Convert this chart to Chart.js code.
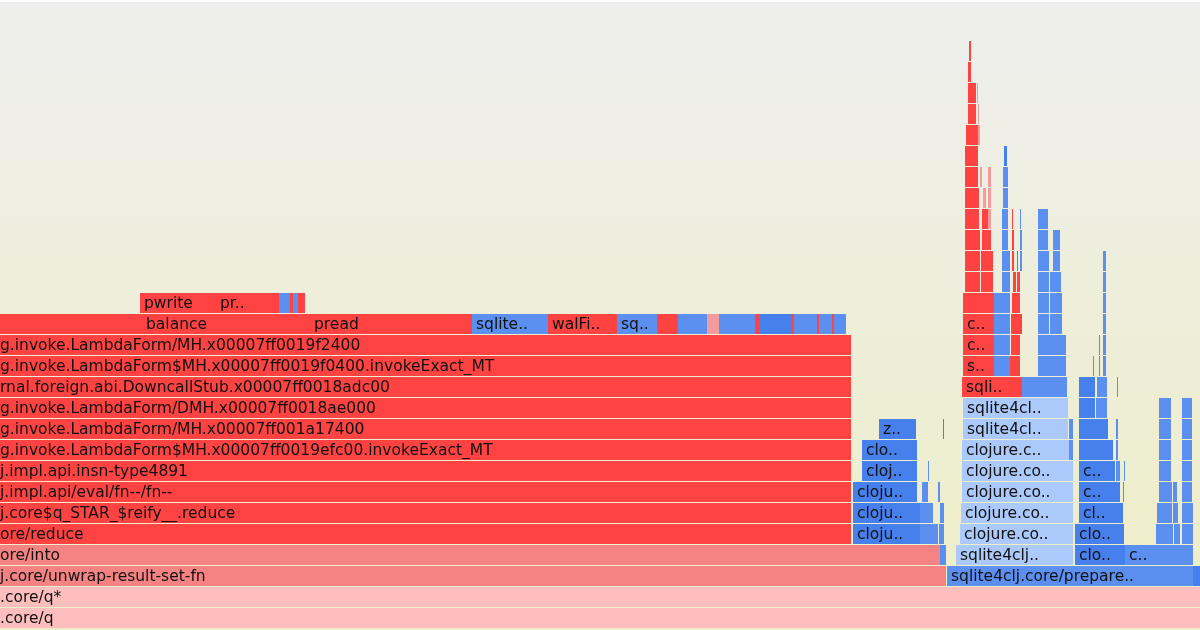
<!DOCTYPE html>
<html>
<head>
<meta charset="utf-8">
<script src="https://cdn.jsdelivr.net/npm/chart.js@4.4.1/dist/chart.umd.min.js"></script>
<style>
  html, body { margin: 0; padding: 0; background: #fff; }
  #wrap {
    position: absolute; left: 0; top: 2px; width: 1200px; height: 628px;
    background: linear-gradient(#eeeeee, #eeeec6);
  }
</style>
</head>
<body>
<div id="wrap"><canvas id="flame"></canvas></div>
<script>
// frame kinds: n = native/jit (red), s = inlined (salmon), p = interpreted (pink),
// b = clojure (blue), d = clojure deep (dark blue), l = clojure lib (light blue), r = small native (light red)
const KIND_COLORS = {
  n: "#ff4343", s: "#f58383", p: "#ffbebe",
  b: "#5b8ff0", d: "#4680ec", l: "#abc9fa", r: "#f29b9b"
};

// one array per stack depth: [startSample, endSample, kind, label]
const level00 = [[-4, 1200, "p", ".core/q"]];
const level01 = [[-4, 1200, "p", ".core/q*"]];
const level02 = [[-4, 946, "s", "j.core/unwrap-result-set-fn"], [947, 1180, "b", "sqlite4clj.core/prepare.."],
  [1180, 1193, "b"], [1193, 1200, "d"]];
const level03 = [[-4, 940, "s", "ore/into"], [940, 946, "b"], [956, 1073, "l", "sqlite4clj.."],
  [1075, 1125, "d", "clo.."], [1125, 1178, "b", "c.."], [1178, 1193, "b"]];
const level04 = [[-4, 851, "n", "ore/reduce"], [853, 920, "d", "cloju.."], [920, 938, "b"], [939, 944, "b"],
  [960, 1073, "l", "clojure.co.."], [1075, 1124, "d", "clo.."], [1156, 1173, "b"], [1174, 1180, "b"], [1182, 1193, "b"]];
const level05 = [[-4, 851, "n", "j.core$q_STAR_$reify__.reduce"], [853, 920, "d", "cloju.."], [920, 933, "b"],
  [940, 944, "b"], [961, 1073, "l", "clojure.co.."], [1079, 1123, "d", "cl.."], [1157, 1172, "b"],
  [1173, 1178, "b"], [1182, 1193, "b"]];
const level06 = [[-4, 851, "n", "j.impl.api/eval/fn--/fn--"], [853, 917, "d", "cloju.."], [922, 928, "b"],
  [938, 940, "b"], [962, 1073, "l", "clojure.co.."], [1079, 1120, "d", "c.."], [1123, 1124, "b"],
  [1159, 1172, "b"], [1173, 1177, "b"], [1182, 1192, "b"]];
const level07 = [[-4, 851, "n", "j.impl.api.insn-type4891"], [862, 917, "d", "cloj.."], [928, 929, "b"],
  [962, 1073, "l", "clojure.co.."], [1079, 1115, "d", "c.."], [1116, 1120, "b"], [1124, 1125, "b"],
  [1159, 1171, "b"], [1182, 1192, "b"]];
const level08 = [[-4, 851, "n", "g.invoke.LambdaForm$MH.x00007ff0019efc00.invokeExact_MT"], [862, 917, "d", "clo.."],
  [962, 1069, "l", "clojure.c.."], [1069, 1073, "b"], [1079, 1113, "d"], [1116, 1118, "b"],
  [1159, 1171, "b"], [1182, 1192, "b"]];
const level09 = [[-4, 851, "n", "g.invoke.LambdaForm/MH.x00007ff001a17400"], [879, 916, "d", "z.."],
  [943, 944, "d"], [963, 1068, "l", "sqlite4cl.."], [1069, 1073, "b"], [1079, 1108, "d"], [1116, 1118, "b"],
  [1159, 1171, "b"], [1182, 1192, "b"]];
const level10 = [[-4, 851, "n", "g.invoke.LambdaForm/DMH.x00007ff0018ae000"], [963, 1068, "l", "sqlite4cl.."],
  [1079, 1095, "d"], [1096, 1107, "b"], [1159, 1171, "b"], [1182, 1190, "b"], [1190, 1192, "b"]];
const level11 = [[-4, 851, "n", "rnal.foreign.abi.DowncallStub.x00007ff0018adc00"], [962, 1022, "n", "sqli.."],
  [1022, 1067, "b"], [1079, 1095, "d"], [1097, 1107, "b"], [1117, 1118, "b"]];
const level12 = [[-4, 851, "n", "g.invoke.LambdaForm$MH.x00007ff0019f0400.invokeExact_MT"], [963, 994, "n", "s.."],
  [994, 1010, "b"], [1010, 1020, "n"], [1038, 1066, "b"], [1093, 1094, "b"], [1099, 1100, "b"], [1103, 1106, "b"]];
const level13 = [[-4, 851, "n", "g.invoke.LambdaForm/MH.x00007ff0019f2400"], [963, 994, "n", "c.."],
  [994, 1010, "b"], [1011, 1020, "n"], [1038, 1066, "b"], [1099, 1100, "b"], [1103, 1106, "b"]];
const level14 = [[-4, 142, "n"], [142, 310, "n", "balance"], [310, 472, "n", "pread"], [472, 548, "b", "sqlite.."],
  [548, 617, "n", "walFi.."], [617, 657, "b", "sq.."], [657, 678, "n"], [678, 707, "b"], [707, 719, "r"],
  [719, 755, "b"], [755, 759, "n"], [759, 791, "d"], [791, 794, "n"], [794, 817, "b"], [817, 819, "n"],
  [819, 832, "b"], [832, 834, "n"], [834, 846, "b"],
  [963, 994, "n", "c.."], [994, 1010, "b"], [1011, 1022, "n"], [1038, 1049, "b"], [1050, 1062, "b"], [1103, 1106, "b"]];
const level15 = [[140, 216, "n", "pwrite"], [216, 279, "n", "pr.."], [279, 290, "b"], [290, 293, "n"],
  [293, 298, "b"], [298, 305, "n"],
  [963, 994, "n"], [994, 1010, "b"], [1012, 1020, "n"], [1038, 1049, "b"], [1050, 1062, "b"], [1103, 1106, "b"]];
const level16 = [[965, 980, "n"], [981, 993, "n"], [1002, 1010, "b"], [1013, 1016, "n"], [1017, 1020, "n"],
  [1038, 1049, "b"], [1050, 1061, "b"], [1103, 1106, "b"]];
const level17 = [[965, 980, "n"], [981, 993, "n"], [1002, 1010, "b"], [1012, 1014, "n"], [1017, 1018, "n"],
  [1020, 1022, "b"], [1038, 1049, "b"], [1053, 1060, "b"], [1103, 1106, "b"]];
const level18 = [[965, 980, "n"], [982, 991, "n"], [1002, 1008, "b"], [1012, 1014, "n"], [1020, 1022, "b"],
  [1038, 1048, "b"], [1053, 1060, "b"]];
const level19 = [[965, 979, "n"], [982, 988, "n"], [988, 991, "r"], [1002, 1008, "b"], [1012, 1013, "n"],
  [1020, 1021, "b"], [1038, 1048, "b"]];
const level20 = [[965, 979, "n"], [983, 986, "r"], [988, 991, "r"], [1003, 1008, "b"]];
const level21 = [[965, 978, "n"], [980, 982, "r"], [988, 991, "r"], [1003, 1008, "b"]];
const level22 = [[965, 978, "n"], [1004, 1007, "d"]];
const level23 = [[966, 978, "n"], [978, 980, "r"]];
const level24 = [[968, 976, "n"], [978, 979, "r"]];
const level25 = [[968, 976, "n"], [977, 978, "r"]];
const level26 = [[968, 971, "n"]];
const level27 = [[969, 971, "n"]];

const levels = [level00, level01, level02, level03, level04, level05, level06, level07, level08, level09,
  level10, level11, level12, level13, level14, level15, level16, level17, level18, level19,
  level20, level21, level22, level23, level24, level25, level26, level27];

const points = [];
levels.forEach((row, depth) => {
  row.forEach(f => points.push({ y: depth, x: [f[0], f[1]], kind: f[2], label: f[3] || "" }));
});

const labelPlugin = {
  id: "frameLabels",
  afterDatasetsDraw(chart) {
    const { ctx, chartArea } = chart;
    const meta = chart.getDatasetMeta(0);
    ctx.save();
    ctx.beginPath();
    ctx.rect(chartArea.left, chartArea.top, chartArea.width, chartArea.height);
    ctx.clip();
    ctx.font = '15.5px "DejaVu Sans"';
    ctx.fillStyle = "#111";
    ctx.textBaseline = "middle";
    meta.data.forEach((bar, i) => {
      const p = points[i];
      if (!p.label) return;
      const { x, base, y, height } = bar.getProps(["x", "base", "y", "height"], true);
      const left = Math.min(x, base), right = Math.max(x, base);
      ctx.save();
      ctx.beginPath();
      ctx.rect(left, y - height / 2, right - left, height);
      ctx.clip();
      ctx.fillText(p.label, left + 4, y + 1);
      ctx.restore();
    });
    ctx.restore();
  }
};

new Chart(document.getElementById("flame"), {
  type: "bar",
  data: {
    datasets: [{
      data: points,
      backgroundColor: c => (c.raw ? KIND_COLORS[c.raw.kind] : "#ff4343"),
      borderWidth: 0,
      barThickness: 20,
      inflateAmount: 0
    }]
  },
  options: {
    indexAxis: "y",
    responsive: true,
    maintainAspectRatio: false,
    animation: false,
    layout: { padding: 0 },
    plugins: { legend: { display: false }, tooltip: { enabled: false } },
    scales: {
      x: { type: "linear", min: 0, max: 1200, offset: false, display: false },
      y: { type: "linear", min: -12 / 21, max: -12 / 21 + 628 / 21, offset: false, grid: { offset: false }, display: false }
    }
  },
  plugins: [labelPlugin]
});
</script>
</body>
</html>
